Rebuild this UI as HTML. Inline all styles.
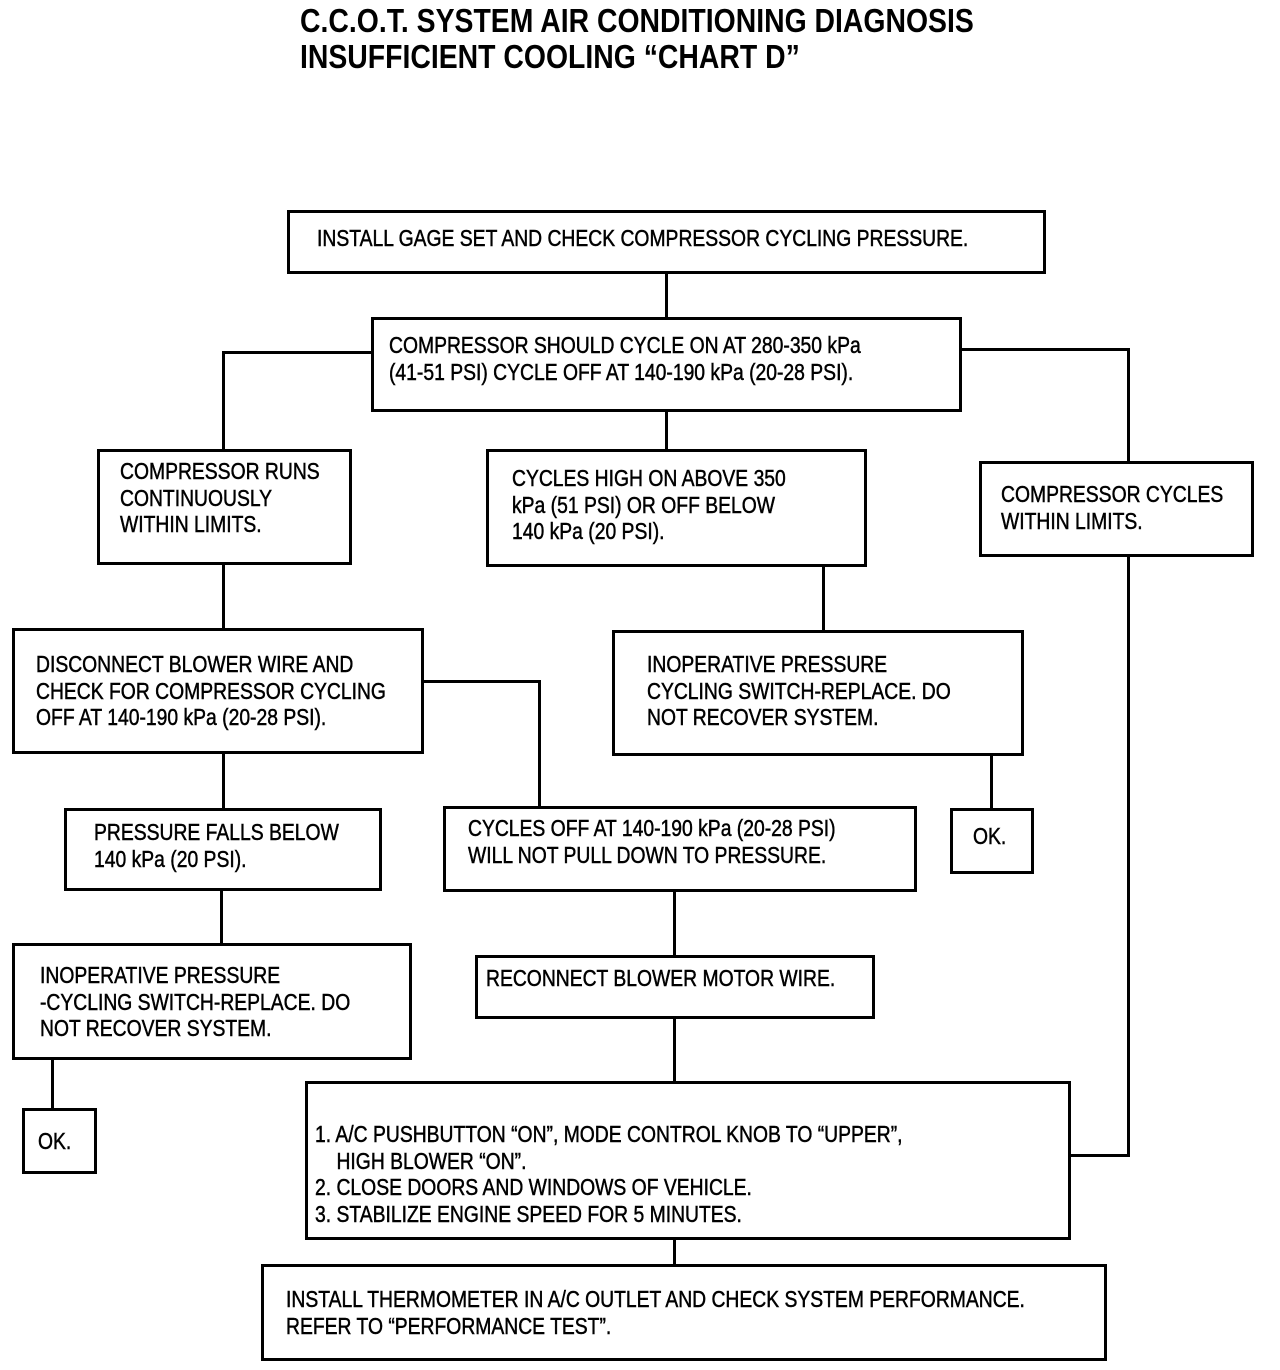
<!DOCTYPE html>
<html><head><meta charset="utf-8"><style>
html,body{margin:0;padding:0;background:#fff;}
body{width:1280px;height:1370px;position:relative;overflow:hidden;font-family:"Liberation Sans",Arial,sans-serif;color:#000;}
.b{position:absolute;border:3px solid #000;box-sizing:border-box;background:#fff;}
.t{position:absolute;font-size:23px;line-height:26.5px;white-space:pre;transform:scaleX(0.84);transform-origin:0 0;-webkit-text-stroke:0.5px #000;}
.h{position:absolute;background:#000;height:3px;}
.v{position:absolute;background:#000;width:3px;}
.title{position:absolute;left:300px;font-size:33px;font-weight:bold;white-space:pre;transform:scaleX(0.86);transform-origin:0 0;line-height:34px;}
</style></head><body>
<div class="title" style="top:4px">C.C.O.T. SYSTEM AIR CONDITIONING DIAGNOSIS</div>
<div class="title" style="top:40px">INSUFFICIENT COOLING “CHART D”</div>

<!-- connectors -->
<div class="v" style="left:665px;top:273px;height:44px"></div>
<div class="h" style="left:222px;top:351px;width:150px"></div>
<div class="v" style="left:222px;top:351px;height:98px"></div>
<div class="h" style="left:960px;top:348px;width:170px"></div>
<div class="v" style="left:1127px;top:348px;height:113px"></div>
<div class="v" style="left:665px;top:411px;height:38px"></div>
<div class="v" style="left:222px;top:564px;height:64px"></div>
<div class="v" style="left:822px;top:566px;height:64px"></div>
<div class="h" style="left:422px;top:680px;width:119px"></div>
<div class="v" style="left:538px;top:680px;height:126px"></div>
<div class="v" style="left:222px;top:753px;height:55px"></div>
<div class="v" style="left:990px;top:755px;height:53px"></div>
<div class="v" style="left:220px;top:890px;height:53px"></div>
<div class="v" style="left:673px;top:891px;height:64px"></div>
<div class="v" style="left:51px;top:1059px;height:49px"></div>
<div class="v" style="left:673px;top:1018px;height:63px"></div>
<div class="v" style="left:1127px;top:556px;height:601px"></div>
<div class="h" style="left:1069px;top:1154px;width:61px"></div>
<div class="v" style="left:673px;top:1239px;height:25px"></div>

<!-- boxes -->
<div class="b" style="left:287px;top:210px;width:759px;height:64px"></div>
<div class="t" style="left:317px;top:225px">INSTALL GAGE SET AND CHECK COMPRESSOR CYCLING PRESSURE.</div>

<div class="b" style="left:371px;top:317px;width:591px;height:95px"></div>
<div class="t" style="left:389px;top:332px">COMPRESSOR SHOULD CYCLE ON AT 280-350 kPa
(41-51 PSI) CYCLE OFF AT 140-190 kPa (20-28 PSI).</div>

<div class="b" style="left:97px;top:449px;width:255px;height:116px"></div>
<div class="t" style="left:120px;top:458px">COMPRESSOR RUNS
CONTINUOUSLY
WITHIN LIMITS.</div>

<div class="b" style="left:486px;top:449px;width:381px;height:118px"></div>
<div class="t" style="left:512px;top:465px">CYCLES HIGH ON ABOVE 350
kPa (51 PSI) OR OFF BELOW
140 kPa (20 PSI).</div>

<div class="b" style="left:979px;top:461px;width:275px;height:96px"></div>
<div class="t" style="left:1001px;top:481px">COMPRESSOR CYCLES
WITHIN LIMITS.</div>

<div class="b" style="left:12px;top:628px;width:412px;height:126px"></div>
<div class="t" style="left:36px;top:651px">DISCONNECT BLOWER WIRE AND
CHECK FOR COMPRESSOR CYCLING
OFF AT 140-190 kPa (20-28 PSI).</div>

<div class="b" style="left:612px;top:630px;width:412px;height:126px"></div>
<div class="t" style="left:647px;top:651px">INOPERATIVE PRESSURE
CYCLING SWITCH-REPLACE. DO
NOT RECOVER SYSTEM.</div>

<div class="b" style="left:64px;top:808px;width:318px;height:83px"></div>
<div class="t" style="left:94px;top:819px">PRESSURE FALLS BELOW
140 kPa (20 PSI).</div>

<div class="b" style="left:443px;top:806px;width:474px;height:86px"></div>
<div class="t" style="left:468px;top:815px">CYCLES OFF AT 140-190 kPa (20-28 PSI)
WILL NOT PULL DOWN TO PRESSURE.</div>

<div class="b" style="left:950px;top:808px;width:84px;height:66px"></div>
<div class="t" style="left:973px;top:823px">OK.</div>

<div class="b" style="left:12px;top:943px;width:400px;height:117px"></div>
<div class="t" style="left:40px;top:962px">INOPERATIVE PRESSURE
-CYCLING SWITCH-REPLACE. DO
NOT RECOVER SYSTEM.</div>

<div class="b" style="left:475px;top:955px;width:400px;height:64px"></div>
<div class="t" style="left:486px;top:965px">RECONNECT BLOWER MOTOR WIRE.</div>

<div class="b" style="left:22px;top:1108px;width:75px;height:66px"></div>
<div class="t" style="left:38px;top:1128px">OK.</div>

<div class="b" style="left:305px;top:1081px;width:766px;height:159px"></div>
<div class="t" style="left:315px;top:1121px">1. A/C PUSHBUTTON “ON”, MODE CONTROL KNOB TO “UPPER”,
    HIGH BLOWER “ON”.
2. CLOSE DOORS AND WINDOWS OF VEHICLE.
3. STABILIZE ENGINE SPEED FOR 5 MINUTES.</div>

<div class="b" style="left:261px;top:1264px;width:846px;height:97px"></div>
<div class="t" style="left:286px;top:1286px">INSTALL THERMOMETER IN A/C OUTLET AND CHECK SYSTEM PERFORMANCE.
REFER TO “PERFORMANCE TEST”.</div>
</body></html>
